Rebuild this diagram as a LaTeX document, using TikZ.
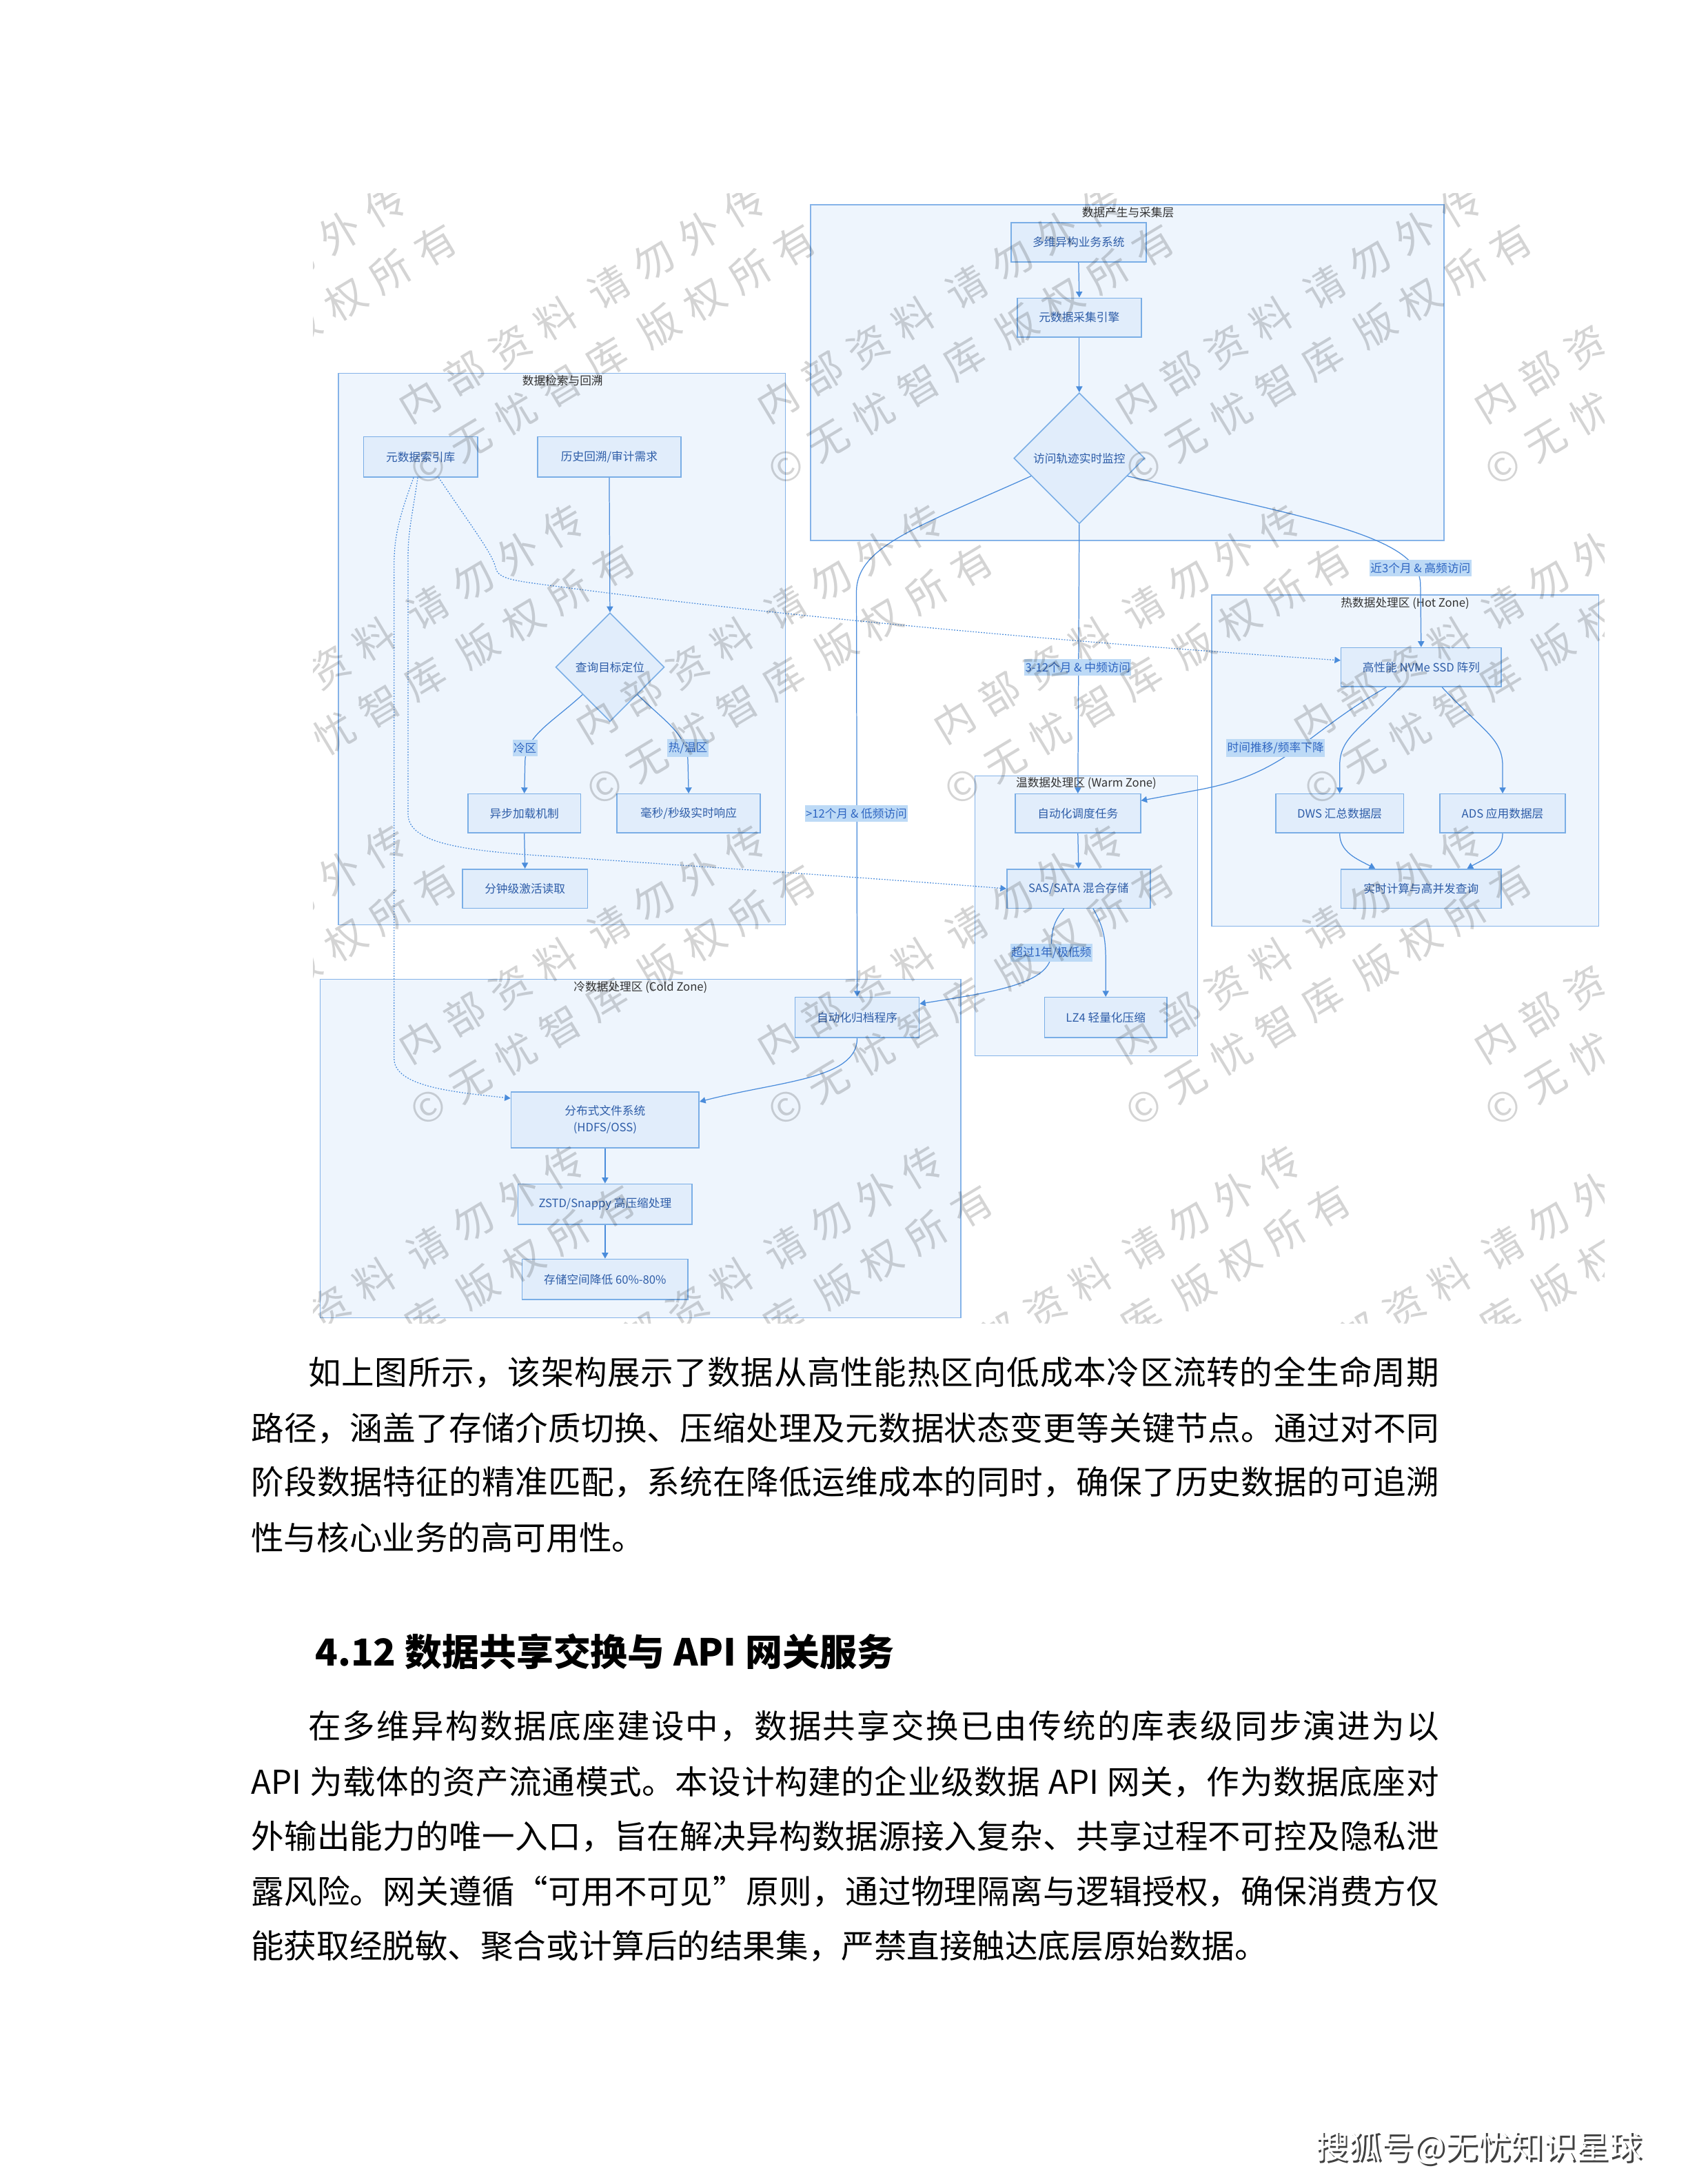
\documentclass[tikz,border=0pt]{standalone}
\usepackage{fontspec}
\setmainfont{Noto Sans CJK SC}
\newfontfamily\wmfont{Noto Sans CJK SC}[LetterSpace=31]
\usetikzlibrary{arrows.meta,shapes.geometric,calc}
\makeatletter
\newcommand\jline[2]{\hbox to #1{\@tfor\jch:=#2\do{\jch\hskip 0pt plus 1fil\relax}\unskip}}
\makeatother
\newlength\wu
\setlength\wu{0.02cm}
\definecolor{clfill}{HTML}{EEF5FD}
\definecolor{clline}{HTML}{85B3E8}
\definecolor{ndfill}{HTML}{E1EDFB}
\definecolor{ndline}{HTML}{7AAEE6}
\definecolor{ndtext}{HTML}{2E5DA8}
\definecolor{edgec}{HTML}{4A8CDB}
\definecolor{lbfill}{HTML}{BDDAF6}
\definecolor{lbtext}{HTML}{2F66C2}
\definecolor{ttltext}{HTML}{333333}
\tikzset{
  wh/.style 2 args={minimum width=#1*0.02cm, minimum height=#2*0.02cm},
  cluster/.style={draw=clline, fill=clfill, line width=0.45pt},
  box/.style={rectangle, draw=ndline, fill=ndfill, line width=0.45pt, text=ndtext,
    font=\fontsize{4.7}{6.8}\selectfont, inner sep=0pt, align=center},
  dia/.style={diamond, aspect=1, draw=ndline, fill=ndfill, line width=0.45pt, text=ndtext,
    font=\fontsize{4.7}{6.8}\selectfont, inner sep=0pt},
  arr/.style={draw=edgec, line width=0.35pt, -{Triangle[length=2.4pt,width=2.6pt]}},
  dots/.style={arr, dash pattern=on 0.5pt off 0.6pt},
  lbl/.style={fill=lbfill, text=lbtext, font=\fontsize{4.7}{5.8}\selectfont, inner xsep=0.4pt, inner ysep=1.2pt},
  ttl/.style={text=ttltext, font=\fontsize{4.7}{5.8}\selectfont, inner sep=0pt},
  body/.style={anchor=base west, inner sep=0pt, font=\fontsize{13.4}{22.5}\selectfont},
  wm/.style={text=black, text opacity=0.17, font=\wmfont\fontsize{16.5}{24.5}\selectfont, align=center, inner sep=0pt, rotate=31}
}
\begin{document}
\begin{tikzpicture}[x=0.02cm,y=-0.02cm]
\useasboundingbox (0,0) rectangle (1212,1568);
\fill[white] (0,0) rectangle (1212,1568);

% clusters
\draw[cluster] (582,147) rectangle (1037,388);
\node[ttl] (t1) at (810,152.5) {数据产生与采集层};
\draw[cluster] (243,268) rectangle (564,664);
\node[ttl] (t2) at (404,273.5) {数据检索与回溯};
\draw[cluster] (870,427) rectangle (1148,665);
\node[ttl] (t3) at (1009,433) {热数据处理区 (Hot Zone)};
\draw[cluster] (700,557) rectangle (860,758);
\node[ttl] (t4) at (780,562.5) {温数据处理区 (Warm Zone)};
\draw[cluster] (230,703) rectangle (690,946);
\node[ttl] (t5) at (460,709) {冷数据处理区 (Cold Zone)};

% nodes
\node[box, wh={97}{28}] (n1) at (774.5,174) {多维异构业务系统};
\node[box, wh={89}{28}] (n2) at (775,228) {元数据采集引擎};
\node[dia, minimum width=94*0.02cm, minimum height=94*0.02cm] (d1) at (775,329) {访问轨迹实时监控};

\node[box, wh={82}{29}] (r1) at (302,328) {元数据索引库};
\node[box, wh={103}{29}] (r2) at (437.5,328) {历史回溯/审计需求};
\node[dia, minimum width=78*0.02cm, minimum height=78*0.02cm] (d2) at (438,479) {查询目标定位};
\node[box, wh={81}{28}] (r3) at (376.5,584) {异步加载机制};
\node[box, wh={103}{28}] (r4) at (494.5,584) {毫秒/秒级实时响应};
\node[box, wh={90}{28}] (r5) at (377,638) {分钟级激活读取};

\node[box, wh={115}{28}] (h1) at (1020.5,479) {高性能 NVMe SSD 阵列};
\node[box, wh={92}{28}] (h2) at (962,584) {DWS 汇总数据层};
\node[box, wh={90}{28}] (h3) at (1079,584) {ADS 应用数据层};
\node[box, wh={115}{28}] (h4) at (1020.5,638) {实时计算与高并发查询};

\node[box, wh={90}{28}] (w1) at (774,584) {自动化调度任务};
\node[box, wh={103}{28}] (w2) at (774.5,638) {SAS/SATA 混合存储};
\node[box, wh={88}{29}] (w3) at (794,730.5) {LZ4 轻量化压缩};

\node[box, wh={89}{29}] (c1) at (615.5,730.5) {自动化归档程序};
\node[box, wh={135}{40}] (c2) at (434.5,804) {分布式文件系统\\(HDFS/OSS)};
\node[box, wh={125}{29}] (c3) at (434.5,864.5) {ZSTD/Snappy 高压缩处理};
\node[box, wh={119}{29}] (c4) at (434.5,918.5) {存储空间降低 60\%-80\%};

% edges
\draw[arr] (n1.south) -- (n2.north);
\draw[arr] (n2.south) -- (d1.north);
\draw[arr] (d1.south) -- (w1.north);
\draw[arr] ($(d1.west)!0.27!(d1.south)$) .. controls (660,378) and (615,392) .. (615,425) -- (c1.north);
\draw[arr] ($(d1.east)!0.27!(d1.south)$) .. controls (940,372) and (1020,385) .. (1020,420) -- (h1.north);

\draw[arr] (r2.south) -- (d2.north);
\draw[arr] ($(d2.west)!0.5!(d2.south)$) .. controls (395,520) and (377,528) .. (377,548) -- (r3.north);
\draw[arr] ($(d2.east)!0.5!(d2.south)$) .. controls (480,520) and (494,528) .. (494,548) -- (r4.north);
\draw[arr] (r3.south) -- (r5.north);

\draw[dots] ($(r1.south)+(-5,0)$) .. controls (287,370) and (283,385) .. (283,405) -- (283,760) .. controls (283,780) and (325,784) .. ($(c2.north west)!0.12!(c2.south west)$);
\draw[dots] ($(r1.south)+(-2,0)$) .. controls (296,370) and (293,382) .. (293,400) -- (293,585) .. controls (294,605) and (330,611) .. (400,615) .. controls (500,622) and (620,630) .. (w2.west);
\draw[dots] ($(r1.south)+(13,0)$) .. controls (340,380) and (354,398) .. (356,408) .. controls (358,416) and (370,417) .. (400,421) .. controls (550,441) and (750,460) .. ($(h1.north west)!0.33!(h1.south west)$);

\draw[arr] ($(h1.south)+(-25,0)$) .. controls (935,528) and (925,555) .. (861,567) -- ($(w1.north east)!0.18!(w1.south east)$);
\draw[arr] ($(h1.south)+(-15,0)$) .. controls (975,525) and (962,530) .. (962,550) -- (h2.north);
\draw[arr] ($(h1.south)+(15,0)$) .. controls (1065,525) and (1079,530) .. (1079,550) -- (h3.north);
\draw[arr] (h2.south) .. controls (962,612) and (975,617) .. ($(h4.north)+(-33,0)$);
\draw[arr] (h3.south) .. controls (1079,612) and (1065,617) .. ($(h4.north)+(33,0)$);

\draw[arr] (w1.south) -- (w2.north);
\draw[arr] ($(w2.south)+(10.5,0)$) .. controls (792,665) and (794,672) .. (794,690) -- (w3.north);
\draw[arr] ($(w2.south)+(-10.5,0)$) .. controls (755,664) and (755,670) .. (755,684) .. controls (755,706) and (715,712) .. ($(c1.north east)!0.17!(c1.south east)$);
\draw[arr] (c1.south) .. controls (615.5,775) and (560,776) .. ($(c2.north east)!0.18!(c2.south east)$);
\draw[arr] (c2.south) -- (c3.north);
\draw[arr] (c3.south) -- (c4.north);

% edge labels
\node[lbl] (l1) at (1020,408) {近3个月 \& 高频访问};
\node[lbl] (l2) at (774,479) {3-12个月 \& 中频访问};
\node[lbl] (l3) at (615,584) {>12个月 \& 低频访问};
\node[lbl] (l4) at (377,537) {冷区};
\node[lbl] (l5) at (494,537) {热/温区};
\node[lbl] (l6) at (916,537) {时间推移/频率下降};
\node[lbl] (l7) at (755,684) {超过1年/极低频};

% watermark
\begin{scope}
\clip (225,139) rectangle (1152,950);
\foreach \cx/\cy in {160/218,418/218,675/218,932/218,1190/218,
                     30/448,288/448,545/448,802/448,1060/448,
                     160/678,418/678,675/678,932/678,1190/678,
                     30/908,288/908,545/908,802/908,1060/908}{
  \node[wm] at (\cx+11,\cy+18) {内部资料 请勿外传\\©无忧智库 版权所有};
}
\end{scope}

% text
\node[body] (p1) at (221,994) {\jline{812\wu}{如上图所示，该架构展示了数据从高性能热区向低成本冷区流转的全生命周期}};
\node[body] (p2) at (180,1034) {\jline{853\wu}{路径，涵盖了存储介质切换、压缩处理及元数据状态变更等关键节点。通过对不同}};
\node[body] (p3) at (180,1073) {\jline{853\wu}{阶段数据特征的精准匹配，系统在降低运维成本的同时，确保了历史数据的可追溯}};
\node[body] (p4) at (180,1113) {性与核心业务的高可用性。};

\node[anchor=base west, inner sep=0pt, font=\bfseries\fontsize{15.2}{18}\selectfont] (hd) at (226,1196) {4.12 数据共享交换与 API 网关服务};

\node[body] (q1) at (221,1248) {\jline{812\wu}{在多维异构数据底座建设中，数据共享交换已由传统的库表级同步演进为以}};
\node[body] (q2) at (180,1288) {\jline{853\wu}{{API}\ 为载体的资产流通模式。本设计构建的企业级数据\ {API}\ 网关，作为数据底座对}};
\node[body] (q3) at (180,1327) {\jline{853\wu}{外输出能力的唯一入口，旨在解决异构数据源接入复杂、共享过程不可控及隐私泄}};
\node[body] (q4) at (180,1367) {\jline{853\wu}{露风险。网关遵循“可用不可见”原则，通过物理隔离与逻辑授权，确保消费方仅}};
\node[body] (q5) at (180,1406) {能获取经脱敏、聚合或计算后的结果集，严禁直接触达底层原始数据。};

\node[anchor=base, inner sep=0pt, text=black!75, font=\fontsize{13.4}{16}\selectfont] (sh) at (1063.3,1551.3) {搜狐号@无忧知识星球};
\node[anchor=base, inner sep=0pt, text=white, font=\fontsize{13.4}{16}\selectfont] (sw) at (1062,1550) {搜狐号@无忧知识星球};
\end{tikzpicture}
\end{document}
